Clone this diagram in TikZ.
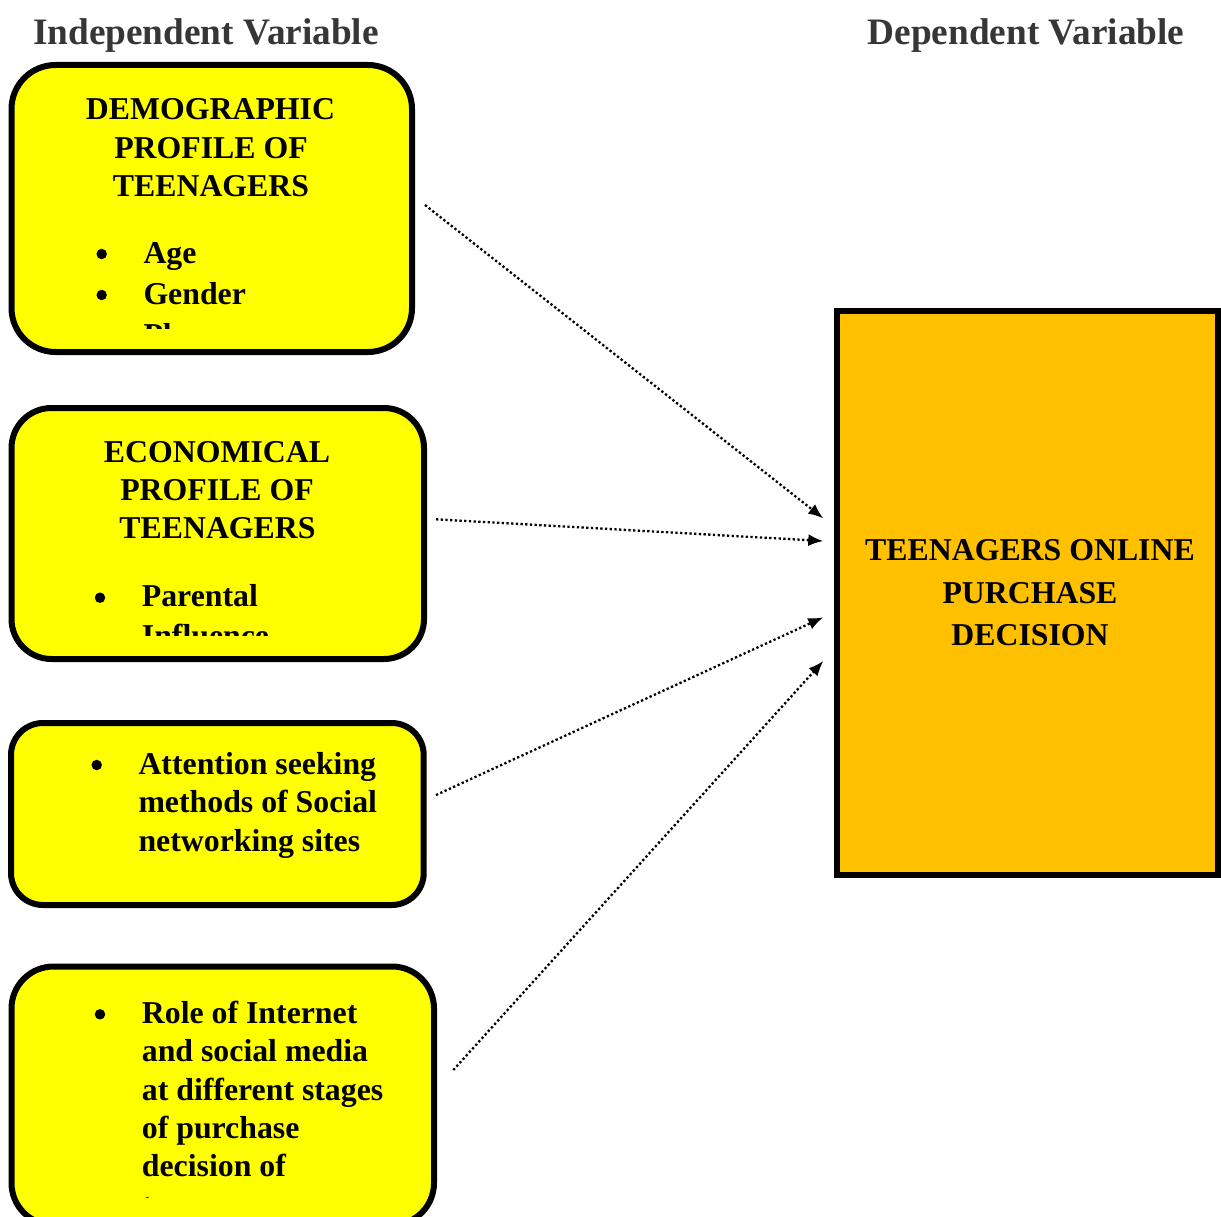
\documentclass[tikz,border=0pt]{standalone}
\usepackage{fontspec}
\setmainfont{Liberation Serif}
\usetikzlibrary{arrows.meta}
\definecolor{boxyellow}{HTML}{FFFF00}
\definecolor{dvorange}{HTML}{FFC000}
\definecolor{hdgray}{HTML}{363636}
\newcommand\bxfont{\fontsize{31.8}{38}\selectfont\bfseries}
\newcommand\hdfont{\fontsize{37.3}{44}\selectfont\bfseries}
\begin{document}
\begin{tikzpicture}[x=1pt,y=-1pt,
  ivbox/.style={draw=black, line width=6pt, fill=boxyellow, rounded corners=#1, inner sep=0pt},
  dvbox/.style={draw=black, line width=6pt, fill=dvorange, inner sep=0pt},
  hdr/.style={font=\hdfont, text=hdgray, inner sep=0pt, anchor=base},
  lbl/.style={font=\bxfont, inner sep=0pt, anchor=base},
  item/.style={font=\bxfont, inner sep=0pt, anchor=base west},
  bul/.style={circle, fill=black, inner sep=0pt, minimum size=10.5pt},
  conn/.style={line width=2.3pt, dash pattern=on 2.3pt off 2.4pt, -{Latex[length=15pt,width=12pt]}}
]
\path[use as bounding box, clip] (0,0) rectangle (1221,1217);

% headers
\node[hdr] (ivh) at (206,45) {Independent Variable};
\node[hdr] (dvh) at (1026,45) {Dependent Variable};

% boxes
\node[ivbox=44pt, minimum width=400.5pt, minimum height=287pt] (b1) at (211.75,208.5) {};
\node[ivbox=40pt, minimum width=412.5pt, minimum height=251pt] (b2) at (217.75,533.5) {};
\node[ivbox=32pt, minimum width=412.7pt, minimum height=182pt] (b3) at (217.35,814) {};
\node[ivbox=42pt, minimum width=422.5pt, minimum height=258.5pt] (b4) at (222.75,1095.75) {};
\node[dvbox, minimum width=381.5pt, minimum height=564pt] (dv) at (1027.25,593) {};

% box 1 text
\begin{scope}
\clip (14.5,68) rectangle (409,328.5);
\node[lbl] (b1l1) at (210.5,119.3) {DEMOGRAPHIC};
\node[lbl] (b1l2) at (211,158.3) {PROFILE OF};
\node[lbl] (b1l3) at (211,196.7) {TEENAGERS};
\node[bul] (b1b1) at (101.7,254) {};
\node[bul] (b1b2) at (101.7,295) {};
\node[bul] (b1b3) at (101.7,336) {};
\node[item] (b1i1) at (143.3,263) {Age};
\node[item] (b1i2) at (143.3,304) {Gender};
\node[item] (b1i3) at (143.3,345) {Place};
\end{scope}

% box 2 text
\begin{scope}
\clip (14.5,411) rectangle (421,635);
\node[lbl] (b2l1) at (217,462.3) {ECONOMICAL};
\node[lbl] (b2l2) at (217,500.5) {PROFILE OF};
\node[lbl] (b2l3) at (217.5,538.5) {TEENAGERS};
\node[bul] (b2b1) at (100,597.7) {};
\node[item] (b2i1) at (141.7,606.7) {Parental};
\node[item] (b2i2) at (141.7,646) {Influence};
\end{scope}

% box 3 text
\node[bul] (b3b1) at (96.7,765) {};
\node[item] (b3i1) at (138.3,774) {Attention seeking};
\node[item] (b3i2) at (138.3,812.5) {methods of Social};
\node[item] (b3i3) at (138.3,851) {networking sites};

% box 4 text
\begin{scope}
\clip (14.5,970) rectangle (431,1197.5);
\node[bul] (b4b1) at (100,1014.3) {};
\node[item] (b4i1) at (141.7,1023.3) {Role of Internet};
\node[item] (b4i2) at (141.7,1061.7) {and social media};
\node[item] (b4i3) at (141.7,1100) {at different stages};
\node[item] (b4i4) at (141.7,1138.3) {of purchase};
\node[item] (b4i5) at (141.7,1176.7) {decision of};
\node[item] (b4i6) at (141.7,1215) {teenagers};
\end{scope}

% main box text
\node[lbl] (dvl1) at (1030,560) {TEENAGERS ONLINE};
\node[lbl] (dvl2) at (1030,603) {PURCHASE};
\node[lbl] (dvl3) at (1030,645) {DECISION};

% connectors
\coordinate (a1s) at (425,205);
\coordinate (a2s) at (436,519.3);
\coordinate (a3s) at (436,795);
\coordinate (a4s) at (453.3,1070);
\coordinate (a1e) at (823.3,518.3);
\coordinate (a2e) at (823.3,541);
\coordinate (a3e) at (823.3,617.3);
\coordinate (a4e) at (823.3,661);
\draw[conn] (a1s) -- (a1e);
\draw[conn] (a2s) -- (a2e);
\draw[conn] (a3s) -- (a3e);
\draw[conn] (a4s) -- (a4e);
\end{tikzpicture}
\end{document}
